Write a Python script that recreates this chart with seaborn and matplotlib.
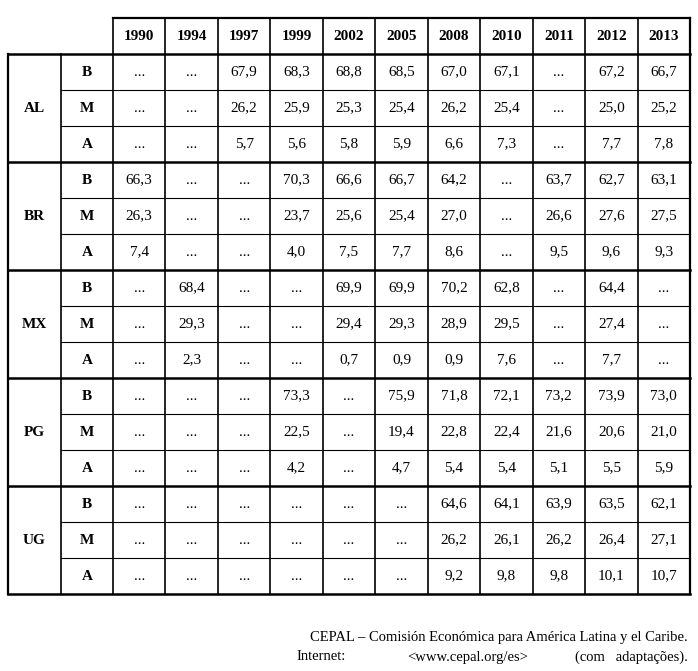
import matplotlib
matplotlib.use("Agg")
import matplotlib.pyplot as plt
import numpy as np
import seaborn as sns

years = ["1990", "1994", "1997", "1999", "2002", "2005", "2008", "2010", "2011", "2012", "2013"]
countries = ["AL", "BR", "MX", "PG", "UG"]
levels = ["B", "M", "A"]
N = "..."
values = [
    # AL
    [N, N, "67,9", "68,3", "68,8", "68,5", "67,0", "67,1", N, "67,2", "66,7"],
    [N, N, "26,2", "25,9", "25,3", "25,4", "26,2", "25,4", N, "25,0", "25,2"],
    [N, N, "5,7", "5,6", "5,8", "5,9", "6,6", "7,3", N, "7,7", "7,8"],
    # BR
    ["66,3", N, N, "70,3", "66,6", "66,7", "64,2", N, "63,7", "62,7", "63,1"],
    ["26,3", N, N, "23,7", "25,6", "25,4", "27,0", N, "26,6", "27,6", "27,5"],
    ["7,4", N, N, "4,0", "7,5", "7,7", "8,6", N, "9,5", "9,6", "9,3"],
    # MX
    [N, "68,4", N, N, "69,9", "69,9", "70,2", "62,8", N, "64,4", N],
    [N, "29,3", N, N, "29,4", "29,3", "28,9", "29,5", N, "27,4", N],
    [N, "2,3", N, N, "0,7", "0,9", "0,9", "7,6", N, "7,7", N],
    # PG
    [N, N, N, "73,3", N, "75,9", "71,8", "72,1", "73,2", "73,9", "73,0"],
    [N, N, N, "22,5", N, "19,4", "22,8", "22,4", "21,6", "20,6", "21,0"],
    [N, N, N, "4,2", N, "4,7", "5,4", "5,4", "5,1", "5,5", "5,9"],
    # UG
    [N, N, N, N, N, N, "64,6", "64,1", "63,9", "63,5", "62,1"],
    [N, N, N, N, N, N, "26,2", "26,1", "26,2", "26,4", "27,1"],
    [N, N, N, N, N, N, "9,2", "9,8", "9,8", "10,1", "10,7"],
]

plt.rcParams["font.family"] = ["Liberation Serif", "DejaVu Serif"]
W, H = 698, 671
fig = plt.figure(figsize=(W / 100, H / 100), dpi=100)

x0, x1, xl, xr = 8, 61, 113, 690
y_head, y0 = 18, 54
rh = 36
y_end = y0 + rh * len(values)

ax = fig.add_axes([xl / W, 1 - y_end / H, (xr - xl) / W, (y_end - y0) / H])
annot = np.array(values)
sns.heatmap(np.zeros(annot.shape), annot=annot, fmt="", cmap=["white"], cbar=False,
            linewidths=0, ax=ax, annot_kws={"fontsize": 11, "color": "black"})
ax.set_xticks([])
ax.set_yticks([])

ov = fig.add_axes([0, 0, 1, 1], facecolor="none")
ov.set_xlim(0, W)
ov.set_ylim(H, 0)
ov.axis("off")

cols = np.linspace(xl, xr, len(years) + 1)
for i, yr in enumerate(years):
    ov.text((cols[i] + cols[i + 1]) / 2, (y_head + y0) / 2, yr, ha="center", va="center",
            fontsize=11, fontweight="bold")
for g, c in enumerate(countries):
    ov.text((x0 + x1) / 2, y0 + rh * (3 * g + 1.5), c, ha="center", va="center",
            fontsize=11, fontweight="bold")
    for k, lv in enumerate(levels):
        ov.text((x1 + xl) / 2, y0 + rh * (3 * g + k + 0.5), lv, ha="center", va="center",
                fontsize=11, fontweight="bold")

kw = dict(color="black", solid_capstyle="projecting")
ov.plot([xl, xr], [y_head, y_head], lw=1.6, **kw)
for x in cols:
    ov.plot([x, x], [y_head, y_end], lw=1.2, **kw)
ov.plot([x0, x0], [y0, y_end], lw=1.6, **kw)
ov.plot([x1, x1], [y0, y_end], lw=1.2, **kw)
ov.plot([xr, xr], [y_head, y_end], lw=1.6, **kw)
for r in range(len(values) + 1):
    y = y0 + rh * r
    if r % 3 == 0:
        ov.plot([x0, xr], [y, y], lw=1.8, **kw)
    else:
        ov.plot([x1, xr], [y, y], lw=0.8, **kw)

ov.text(688, 637, "CEPAL – Comisión Económica para América Latina y el Caribe.",
        ha="right", va="center", fontsize=10.5)
# second footer line is justified to the width of the first
ov.text(296, 657, "Internet:", ha="left", va="center", fontsize=10.5)
ov.text(468, 657, "<www.cepal.org/es>", ha="center", va="center", fontsize=10.5)
ov.text(688, 657, "(com   adaptações).", ha="right", va="center", fontsize=10.5)

fig.savefig("out.png", dpi=100)
